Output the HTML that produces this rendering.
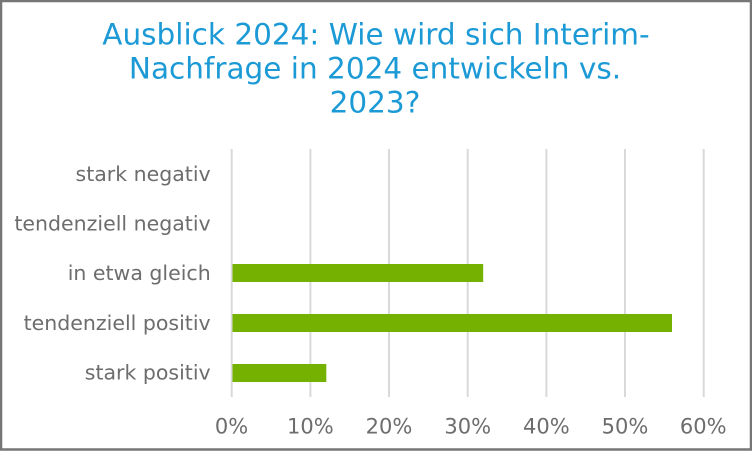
<!DOCTYPE html>
<html><head><meta charset="utf-8"><style>
html,body{margin:0;padding:0;background:#fff;}
svg{display:block;}
</style></head><body>
<svg width="752" height="451" viewBox="0 0 752 451" xmlns="http://www.w3.org/2000/svg">
<rect x="0" y="0" width="752" height="451" fill="#fff"/>
<rect x="1" y="1" width="750" height="448.5" fill="none" stroke="#767676" stroke-width="2.5"/>
<g font-family="'DejaVu Sans','Liberation Sans',sans-serif" fill="#1b9ad6" font-size="29.5" text-anchor="middle">
<text x="376" y="44.3">Ausblick 2024: Wie wird sich Interim-</text>
<text x="375" y="78.3">Nachfrage in 2024 entwickeln vs.</text>
<text x="375" y="112.5">2023?</text>
</g>
<g stroke="#d9d9d9" stroke-width="2">
<line x1="231.7" y1="149" x2="231.7" y2="397"/>
<line x1="310.4" y1="149" x2="310.4" y2="397"/>
<line x1="389" y1="149" x2="389" y2="397"/>
<line x1="467.7" y1="149" x2="467.7" y2="397"/>
<line x1="546.4" y1="149" x2="546.4" y2="397"/>
<line x1="625" y1="149" x2="625" y2="397"/>
<line x1="703.7" y1="149" x2="703.7" y2="397"/>
</g>
<g fill="#74b100">
<rect x="232.5" y="264" width="250.7" height="18"/>
<rect x="232.5" y="314" width="439.5" height="18"/>
<rect x="232.5" y="364" width="93.8" height="18"/>
</g>
<g font-family="'DejaVu Sans','Liberation Sans',sans-serif" fill="#6d6d6d" font-size="20.5" text-anchor="end">
<text x="210.7" y="181">stark negativ</text>
<text x="210.7" y="230.5">tendenziell negativ</text>
<text x="210.7" y="280">in etwa gleich</text>
<text x="210.7" y="330">tendenziell positiv</text>
<text x="210.7" y="379.5">stark positiv</text>
</g>
<g font-family="'DejaVu Sans','Liberation Sans',sans-serif" fill="#6d6d6d" font-size="21" text-anchor="middle">
<text x="231.5" y="433.3">0%</text>
<text x="310.4" y="433.3">10%</text>
<text x="389" y="433.3">20%</text>
<text x="467.7" y="433.3">30%</text>
<text x="546.4" y="433.3">40%</text>
<text x="625" y="433.3">50%</text>
<text x="703.2" y="433.3">60%</text>
</g>
</svg>
</body></html>
